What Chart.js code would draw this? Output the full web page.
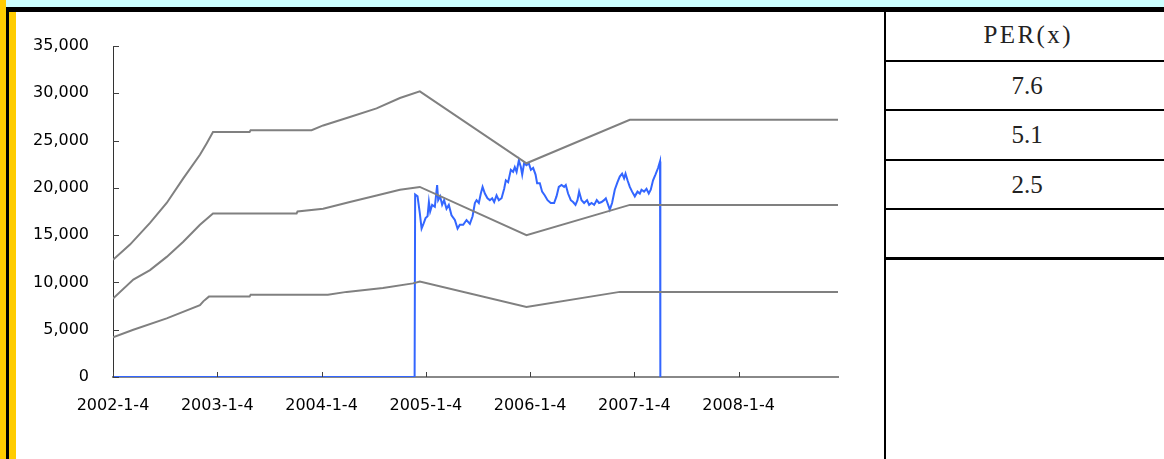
<!DOCTYPE html>
<html>
<head>
<meta charset="utf-8">
<script src="https://cdn.jsdelivr.net/npm/chart.js@4/dist/chart.umd.min.js"></script>
<style>
  html, body { margin: 0; padding: 0; }
  body { width: 1164px; height: 459px; overflow: hidden; position: relative; background: #fff; }
  .blk { position: absolute; }
  #chartBox { position: absolute; left: 16px; top: 12px; width: 869px; height: 447px; }
  .cell {
    position: absolute; left: 886px; width: 282px;
    font-family: 'Liberation Serif', 'DejaVu Serif', serif; font-size: 25px; color: #222;
    text-align: center; white-space: nowrap;
  }
</style>
</head>
<body>
<!-- frame -->
<div class="blk" style="left:0;top:0;width:6px;height:459px;background:#ffcc00"></div>
<div class="blk" style="left:6px;top:0;width:1158px;height:7px;background:#ccffff"></div>
<div class="blk" style="left:6px;top:7px;width:1158px;height:5px;background:#000"></div>
<div class="blk" style="left:6px;top:7px;width:3px;height:452px;background:#000"></div>
<div class="blk" style="left:9px;top:12px;width:7px;height:447px;background:#ffcc00"></div>

<div id="chartBox"><canvas id="perBand" width="869" height="447"></canvas></div>

<!-- PER table -->
<div class="blk" style="left:884px;top:12px;width:2px;height:447px;background:#000"></div>
<div class="blk" style="left:886px;top:60px;width:278px;height:2px;background:#000"></div>
<div class="blk" style="left:886px;top:109px;width:278px;height:2px;background:#000"></div>
<div class="blk" style="left:886px;top:159px;width:278px;height:2px;background:#000"></div>
<div class="blk" style="left:886px;top:208px;width:278px;height:2px;background:#000"></div>
<div class="blk" style="left:886px;top:257px;width:278px;height:3px;background:#000"></div>
<div id="perTable"></div>

<script>
'use strict';

// ----- データ -----
const yearLabels = ['2002-1-4', '2003-1-4', '2004-1-4', '2005-1-4', '2006-1-4', '2007-1-4', '2008-1-4'];
const yTicks = [0, 5000, 10000, 15000, 20000, 25000, 30000, 35000];
const perMultiples = ['PER(x)', '7.6', '5.1', '2.5', ''];

// x = 2002-1-4 からの経過年数
const band76 = [
  [0, 12400], [0.163, 14000], [0.355, 16300], [0.515, 18400], [0.674, 21000], [0.834, 23500],
  [0.898, 24700], [0.959, 25900], [1.31, 25900], [1.32, 26100], [1.905, 26100], [2.016, 26600],
  [2.272, 27500], [2.528, 28400], [2.752, 29500], [2.943, 30200], [3.966, 22600], [4.957, 27200],
  [6.954, 27200]
];
const band51 = [
  [0, 8300], [0.195, 10300], [0.355, 11300], [0.515, 12700], [0.674, 14300], [0.834, 16100],
  [0.959, 17300], [1.761, 17300], [1.77, 17500], [2.016, 17800], [2.272, 18500], [2.528, 19200],
  [2.752, 19800], [2.943, 20100], [3.966, 15000], [4.957, 18200], [6.954, 18200]
];
const band25 = [
  [0, 4200], [0.195, 5000], [0.515, 6200], [0.834, 7600], [0.866, 8000], [0.92, 8500],
  [1.31, 8500], [1.32, 8700], [2.061, 8700], [2.241, 9000], [2.589, 9400], [2.876, 9900],
  [2.943, 10100], [3.966, 7400], [4.861, 9000], [6.954, 9000]
];
const priceSeries = [
  [0, 0], [2.893, 0], [2.898, 19300], [2.921, 19100], [2.943, 17300], [2.960, 15700], [2.975, 16100],
  [2.998, 16800], [3.017, 17000], [3.030, 18500], [3.042, 17500], [3.061, 18200], [3.087, 18000],
  [3.109, 20300], [3.119, 18700], [3.138, 19100], [3.157, 18200], [3.176, 18700], [3.199, 17800],
  [3.221, 18200], [3.247, 17100], [3.279, 16600], [3.305, 15700], [3.327, 16100], [3.359, 16100],
  [3.391, 16600], [3.423, 16200], [3.449, 17000], [3.471, 18400], [3.487, 18700], [3.509, 18400],
  [3.528, 19400], [3.545, 20100], [3.567, 19400], [3.592, 18900], [3.615, 18700], [3.637, 18900],
  [3.656, 18500], [3.679, 19200], [3.701, 18700], [3.727, 18900], [3.752, 19900], [3.768, 20800],
  [3.790, 20600], [3.816, 21900], [3.838, 21700], [3.854, 22200], [3.871, 21700], [3.893, 22900],
  [3.912, 22200], [3.925, 21400], [3.943, 22600], [3.966, 22400], [3.988, 22600], [4.008, 21900],
  [4.030, 22100], [4.053, 21400], [4.068, 20500], [4.094, 20500], [4.116, 19600], [4.142, 19200],
  [4.168, 18700], [4.199, 18400], [4.231, 18400], [4.254, 19100], [4.276, 20100], [4.302, 20300],
  [4.327, 20100], [4.343, 20300], [4.365, 19400], [4.391, 18700], [4.413, 18500], [4.436, 18200],
  [4.455, 18700], [4.471, 19600], [4.494, 18700], [4.519, 18400], [4.547, 18700], [4.567, 18200],
  [4.590, 18400], [4.615, 18200], [4.640, 18700], [4.662, 18400], [4.686, 18500], [4.710, 18700],
  [4.727, 18900], [4.743, 18400], [4.765, 17700], [4.787, 18400], [4.813, 19800], [4.839, 20600],
  [4.861, 21200], [4.883, 21500], [4.902, 21000], [4.916, 21500], [4.935, 20800], [4.957, 20100],
  [4.979, 19600], [5.005, 19100], [5.031, 19600], [5.053, 19400], [5.069, 19800], [5.094, 19600],
  [5.117, 19900], [5.139, 19400], [5.158, 19800], [5.180, 20800], [5.203, 21400], [5.228, 22100],
  [5.247, 22800], [5.250, 0]
];

// ----- PER 表 -----
const cellRows = [[12, 46], [62, 47], [111, 48], [161, 47], [210, 47]];
const table = document.getElementById('perTable');
perMultiples.forEach((txt, i) => {
  const d = document.createElement('div');
  d.className = 'cell';
  d.style.top = cellRows[i][0] + 'px';
  d.style.height = cellRows[i][1] + 'px';
  d.style.lineHeight = cellRows[i][1] + 'px';
  if (i === 0) {
    d.style.letterSpacing = '2.4px';
    d.style.paddingLeft = '2.4px';
    d.style.boxSizing = 'border-box';
  }
  d.textContent = txt;
  table.appendChild(d);
});

// ----- 内向き目盛り -----
const innerTicks = {
  id: 'innerTicks',
  afterDraw(chart) {
    const { ctx, scales: { x, y } } = chart;
    ctx.save();
    ctx.strokeStyle = '#404040';
    ctx.lineWidth = 1;
    ctx.beginPath();
    y.ticks.forEach(t => {
      const py = Math.round(y.getPixelForValue(t.value)) + 0.5;
      ctx.moveTo(x.left, py);
      ctx.lineTo(x.left + 6, py);
    });
    x.ticks.forEach(t => {
      const px = Math.round(x.getPixelForValue(t.value)) + 0.5;
      ctx.moveTo(px, y.bottom);
      ctx.lineTo(px, y.bottom - 5);
    });
    ctx.stroke();
    ctx.restore();
  }
};

const toPoints = arr => arr.map(([x, y]) => ({ x, y }));
const grayLine = data => ({
  data: toPoints(data),
  borderColor: '#808080',
  borderWidth: 2,
  pointRadius: 0,
  tension: 0,
  fill: false
});

Chart.defaults.font.family = "'DejaVu Sans', 'Liberation Sans', sans-serif";
Chart.defaults.font.size = 16;
Chart.defaults.color = '#000';

new Chart(document.getElementById('perBand'), {
  type: 'line',
  data: {
    datasets: [
      grayLine(band76),
      grayLine(band51),
      grayLine(band25),
      {
        data: toPoints(priceSeries),
        borderColor: '#3366ff',
        borderWidth: 2,
        pointRadius: 0,
        tension: 0,
        fill: false
      }
    ]
  },
  options: {
    responsive: false,
    animation: false,
    layout: { padding: { top: 34, right: 47, left: 0, bottom: 0 } },
    plugins: { legend: { display: false }, tooltip: { enabled: false } },
    scales: {
      x: {
        type: 'linear',
        min: 0,
        max: 6.954,
        z: 1,
        afterBuildTicks: s => { s.ticks = yearLabels.map((_, i) => ({ value: i })); },
        afterFit: s => { s.height = 82; },
        ticks: { callback: v => yearLabels[v], padding: 19, maxRotation: 0, autoSkip: false },
        grid: { display: false, drawTicks: false, tickLength: 0 },
        border: { display: true, color: '#888', width: 2 }
      },
      y: {
        min: 0,
        max: 35000,
        afterBuildTicks: s => { s.ticks = yTicks.map(v => ({ value: v })); },
        afterFit: s => { s.width = 97; },
        ticks: { callback: v => v.toLocaleString('en-US'), padding: 24 },
        grid: { display: false, drawTicks: false, tickLength: 0 },
        border: { display: true, color: '#333', width: 1 }
      }
    }
  },
  plugins: [innerTicks]
});
</script>
</body>
</html>
